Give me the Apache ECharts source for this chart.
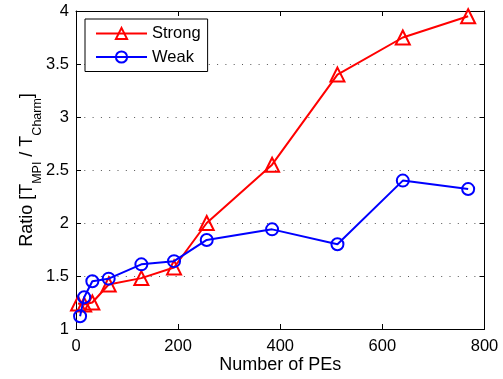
<!DOCTYPE html>
<html><head><meta charset="utf-8">
<script src="https://cdn.jsdelivr.net/npm/echarts@6/dist/echarts.min.js"></script>
<style>html,body{margin:0;padding:0;background:#fff}#c{width:503px;height:379px}</style>
</head><body><div id="c"></div>
<script>
const strongX = [4, 16, 32, 64, 128, 192, 256, 384, 512, 640, 768];
const strongY = [1.24, 1.23, 1.25, 1.42, 1.48, 1.58, 2.0, 2.55, 3.40, 3.75, 3.95];
const weakX = [8, 16, 32, 64, 128, 192, 256, 384, 512, 640, 768];
const weakY = [1.12, 1.30, 1.45, 1.475, 1.61, 1.64, 1.84, 1.94, 1.80, 2.40, 2.32];
const seriesNames = ['Strong', 'Weak'];
const xTitle = 'Number of PEs';
const font = 'Liberation Sans, Arial, Helvetica, sans-serif';

const chart = echarts.init(document.getElementById('c'), null, {renderer: 'canvas'});
const pairs = (xs, ys) => xs.map((x, i) => [x, ys[i]]);
const tickStyle = {show: true, inside: true, length: 5, lineStyle: {color: '#000', width: 1}};
chart.setOption({
  animation: false,
  backgroundColor: '#fff',
  grid: {left: 76, right: 18.5, top: 11, bottom: 50, containLabel: false},
  legend: {
    left: 85, top: 19, orient: 'vertical',
    padding: [6, 7, 6, 10], itemGap: 6.5, itemWidth: 51, itemHeight: 14,
    backgroundColor: '#fff', borderColor: '#000', borderWidth: 1, borderRadius: 0,
    textStyle: {fontFamily: font, fontSize: 16.5, color: '#000'},
    data: seriesNames
  },
  xAxis: [{
    type: 'value', min: 0, max: 800, interval: 200,
    name: xTitle, nameLocation: 'middle', nameGap: 27, nameMoveOverlap: false,
    nameTextStyle: {fontFamily: font, fontSize: 18, color: '#000'},
    axisLine: {show: true, onZero: false, lineStyle: {color: '#000', width: 1}},
    axisTick: tickStyle,
    axisLabel: {fontFamily: font, fontSize: 16.5, color: '#000', margin: 9},
    splitLine: {show: false}
  }, {
    type: 'value', position: 'top', min: 0, max: 800, interval: 200,
    axisLine: {show: true, onZero: false, lineStyle: {color: '#000', width: 1}},
    axisTick: tickStyle, axisLabel: {show: false}, splitLine: {show: false}
  }],
  yAxis: [{
    type: 'value', min: 1, max: 4, interval: 0.5,
    name: '{n|Ratio [T}{s|MPI}{n| / T}{s|Charm}{n|]}',
    nameLocation: 'middle', nameGap: 32, nameRotate: 90, nameMoveOverlap: false,
    nameTextStyle: {
      fontFamily: font, color: '#000',
      rich: {
        n: {fontFamily: font, fontSize: 18, color: '#000', lineHeight: 26, verticalAlign: 'top'},
        s: {fontFamily: font, fontSize: 12.5, color: '#000', lineHeight: 13, verticalAlign: 'bottom'}
      }
    },
    axisLine: {show: true, onZero: false, lineStyle: {color: '#000', width: 1}},
    axisTick: tickStyle,
    axisLabel: {fontFamily: font, fontSize: 16.5, color: '#000', margin: 7},
    splitLine: {show: true, lineStyle: {color: '#555', width: 1, type: [1, 7.3]}}
  }, {
    type: 'value', position: 'right', min: 1, max: 4, interval: 0.5,
    axisLine: {show: true, onZero: false, lineStyle: {color: '#000', width: 1}},
    axisTick: tickStyle, axisLabel: {show: false}, splitLine: {show: false}
  }],
  series: [{
    name: seriesNames[0], type: 'line', data: pairs(strongX, strongY),
    symbol: 'triangle', symbolSize: 14,
    lineStyle: {color: '#f00', width: 2},
    itemStyle: {color: 'rgba(255,255,255,0)', borderColor: '#f00', borderWidth: 2},
    emphasis: {disabled: true}, z: 3
  }, {
    name: seriesNames[1], type: 'line', data: pairs(weakX, weakY),
    symbol: 'circle', symbolSize: 12,
    lineStyle: {color: '#00f', width: 2},
    itemStyle: {color: 'rgba(255,255,255,0)', borderColor: '#00f', borderWidth: 2},
    emphasis: {disabled: true}, z: 4
  }]
});
</script></body></html>
